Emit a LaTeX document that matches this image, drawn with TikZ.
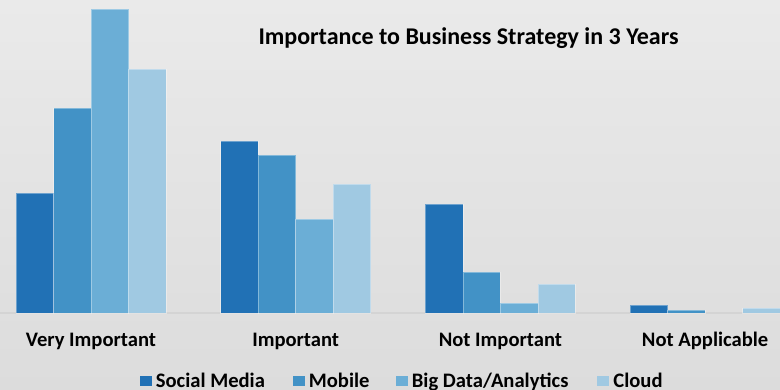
\documentclass[tikz,border=0pt]{standalone}
\usepackage{fontspec}
\setmainfont{Carlito}
\usetikzlibrary{positioning}
\definecolor{socialblue}{HTML}{2171B5}
\definecolor{mobileblue}{HTML}{4292C6}
\definecolor{bigdatablue}{HTML}{6BAED6}
\definecolor{cloudblue}{HTML}{A0C9E2}
\definecolor{bgtop}{HTML}{EAEAEA}
\definecolor{bgbottom}{HTML}{DCDCDC}
\definecolor{axisgray}{HTML}{D4D4D4}
\begin{document}
\begin{tikzpicture}[
	                  x = 1pt,
	                  y = -1pt,
	          bar/.style = {draw=white, draw opacity=0.35, line width=0.6pt},
	     catlabel/.style = {font=\bfseries\fontsize{20.6}{20.6}\selectfont, anchor=base, inner sep=0pt},
	   titletext/.style = {font=\bfseries\fontsize{24}{24}\selectfont, anchor=base, inner sep=0pt},
	       keybox/.style = {minimum width=12pt, minimum height=10pt, inner sep=0pt},
	      keytext/.style = {font=\bfseries\fontsize{20.6}{20.6}\selectfont, inner sep=0pt, text height=13pt, text depth=0pt},
	                     ]
		\useasboundingbox (0,0) rectangle (780,390);
		\shade[top color=bgtop, bottom color=bgbottom] (0,0) rectangle (780,390);
		\draw[axisgray, line width=1.2pt] (0,313) -- (780,313);
		\foreach \g/\a/\b/\c/\d in {0/120/205/304/244, 1/172/158/94/129, 2/109/41/10/29, 3/8/3/0/5}{
			\pgfmathsetmacro{\xg}{16+204.7*\g}
			\foreach \h/\col [count=\s from 0] in {\a/socialblue, \b/mobileblue, \c/bigdatablue, \d/cloudblue}{
				\ifnum\h>0
					\fill[\col, bar] (\xg+37.5*\s,313) rectangle (\xg+37.5*\s+37.5,313-\h);
				\fi
			}
		}
		\foreach \lab/\name [count=\i from 0] in {Very Important/catVery, Important/catImportant, Not Important/catNot, Not Applicable/catNA}
			\node[catlabel] (\name) at (91+204.7*\i,347) {\lab};
		\node[titletext] (title) at (468.5,45) {Importance to Business Strategy in 3 Years};
		\node[keybox, fill=socialblue] (keySocial) at (145.5,381) {};
		\node[keytext, right=4pt of keySocial] (txtSocial) {Social Media};
		\node[keybox, fill=mobileblue] (keyMobile) at (298.5,381) {};
		\node[keytext, right=4pt of keyMobile] (txtMobile) {Mobile};
		\node[keybox, fill=bigdatablue] (keyBigData) at (401.5,381) {};
		\node[keytext, right=4pt of keyBigData] (txtBigData) {Big Data/Analytics};
		\node[keybox, fill=cloudblue] (keyCloud) at (603,381) {};
		\node[keytext, right=4pt of keyCloud] (txtCloud) {Cloud};
	\end{tikzpicture}
\end{document}
